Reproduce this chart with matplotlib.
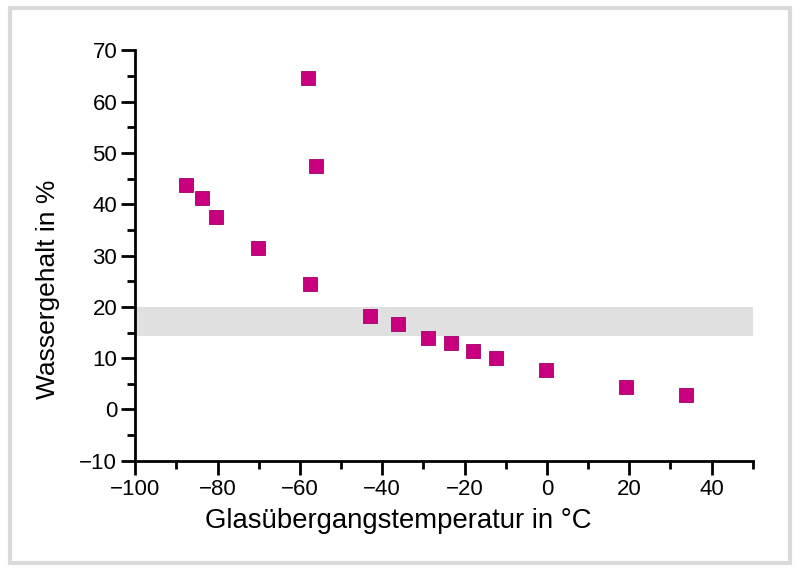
import matplotlib
matplotlib.use('Agg')
import matplotlib.pyplot as plt
from matplotlib.patches import Rectangle
from matplotlib.ticker import MultipleLocator

# data
tg_celsius = [-87.7, -83.8, -80.4, -70.2, -58.1, -56.2, -57.6, -42.9, -36.1,
              -28.8, -23.2, -17.9, -12.3, -0.2, 19.1, 33.7]
water_pct = [43.8, 41.2, 37.5, 31.5, 64.6, 47.5, 24.5, 18.3, 16.7,
             14.0, 13.0, 11.3, 10.1, 7.6, 4.3, 2.9]
band_low, band_high = 14.3, 20.0
xlabel = 'Glasübergangstemperatur in °C'
ylabel = 'Wassergehalt in %'

plt.rcParams['font.family'] = ['Liberation Sans', 'DejaVu Sans']

fig = plt.figure(figsize=(8, 5.71), dpi=100)
fig.patches.append(Rectangle((0.012, 0.014), 0.976, 0.972, transform=fig.transFigure,
                             fill=False, edgecolor='#dadada', linewidth=3))
ax = fig.add_axes([0.169, 0.193, 0.772, 0.719])

ax.axhspan(band_low, band_high, color='#e0e0e0', zorder=0, linewidth=0)
ax.plot(tg_celsius, water_pct, linestyle='none', marker='s', markersize=9.5,
        color='#c8007f', markeredgecolor='#a0006a', markeredgewidth=0.6, zorder=3)

ax.set_xlim(-100, 50)
ax.set_ylim(-10, 70)
ax.xaxis.set_major_locator(MultipleLocator(20))
ax.xaxis.set_minor_locator(MultipleLocator(10))
ax.yaxis.set_major_locator(MultipleLocator(10))
ax.yaxis.set_minor_locator(MultipleLocator(5))

for side in ['top', 'right']:
    ax.spines[side].set_visible(False)
for side in ['left', 'bottom']:
    ax.spines[side].set_linewidth(2)
ax.tick_params(which='major', direction='out', length=10, width=2, labelsize=16, pad=3)
ax.tick_params(which='minor', direction='out', length=6, width=2)

# labels sit off-centre in the reference
ax.set_xlabel(xlabel, fontsize=19.8, labelpad=6, x=0.426)
ax.set_ylabel(ylabel, fontsize=19, labelpad=14, y=0.418)

fig.savefig('out.png', dpi=100)
